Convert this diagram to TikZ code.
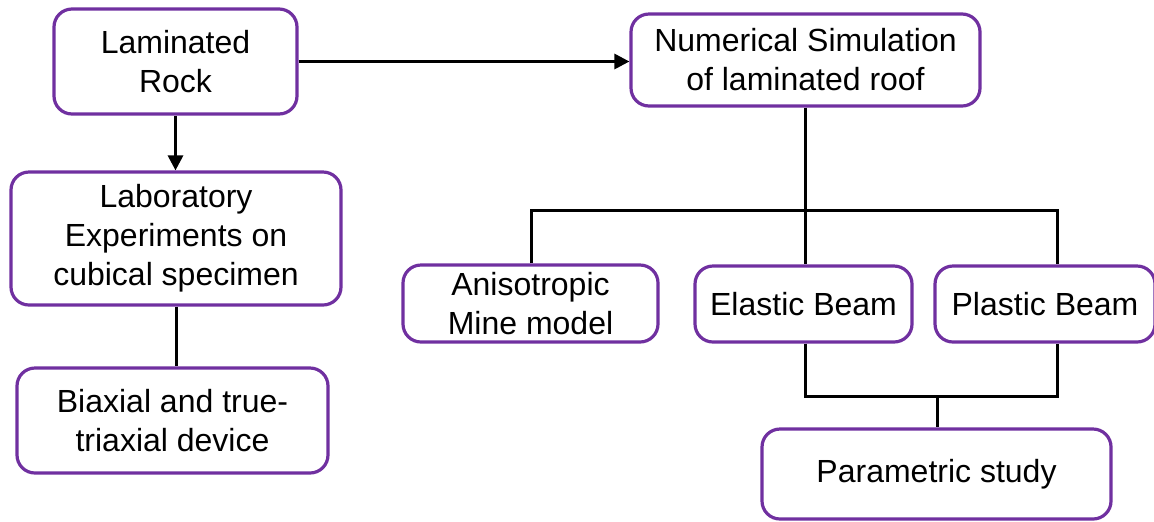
\documentclass[tikz,border=0pt]{standalone}
\usepackage{fontspec}
\setmainfont{Liberation Sans}
\usetikzlibrary{arrows.meta}
\definecolor{boxpurple}{HTML}{7030A0}
\begin{document}
\begin{tikzpicture}[x=0.5pt,y=-0.5pt,
  box/.style={draw=boxpurple, line width=1.6pt, rounded corners=9pt, fill=white,
    align=center, inner sep=0pt, font=\fontsize{16}{19.5}\selectfont},
  conn/.style={draw=black, line width=1.5pt},
  arr/.style={conn, -{Triangle[length=7.5pt,width=7.5pt]}}]
\useasboundingbox (0,0) rectangle (1154,521);
\node[box, minimum width=121.5pt, minimum height=52.5pt] (rock) at (175.5,61.5) {Laminated\\Rock};
\node[box, minimum width=174.5pt, minimum height=46pt] (num) at (805.5,60) {Numerical Simulation\\of laminated roof};
\node[box, minimum width=165pt, minimum height=66.5pt] (lab) at (176,238.5) {Laboratory\\Experiments on\\cubical specimen};
\node[box, minimum width=155.5pt, minimum height=52.5pt] (bia) at (172.5,420.5) {Biaxial and true-\\triaxial device};
\node[box, minimum width=127.5pt, minimum height=38.5pt] (ani) at (530.5,303.5) {Anisotropic\\Mine model};
\node[box, minimum width=108.5pt, minimum height=38pt] (ela) at (803.5,304) {Elastic Beam};
\node[box, minimum width=110pt, minimum height=38pt] (pla) at (1045,304) {Plastic Beam};
\node[box, minimum width=174.5pt, minimum height=45pt] (par) at (936.5,474) {Parametric study};
% junction coordinates
\coordinate (jtop) at (805,210);
\coordinate (jleft) at (531,210);
\coordinate (jright) at (1057,210);
\coordinate (jbl) at (805,396);
\coordinate (jbr) at (1057,396);
\coordinate (jbm) at (937,396);
% connectors
\draw[arr] (rock.east) -- (rock.east -| num.west);
\draw[arr] (rock.south) -- (rock.south |- lab.north);
\draw[conn] (lab.south) -- (lab.south |- bia.north);
\draw[conn] (num.south -| jtop) -- (jtop);
\draw[conn] (jleft |- ani.north) -- (jleft) -- (jright) -- (jright |- pla.north);
\draw[conn] (jtop) -- (jtop |- ela.north);
\draw[conn] (jbl |- ela.south) -- (jbl) -- (jbr) -- (jbr |- pla.south);
\draw[conn] (jbm) -- (jbm |- par.north);
\end{tikzpicture}
\end{document}
